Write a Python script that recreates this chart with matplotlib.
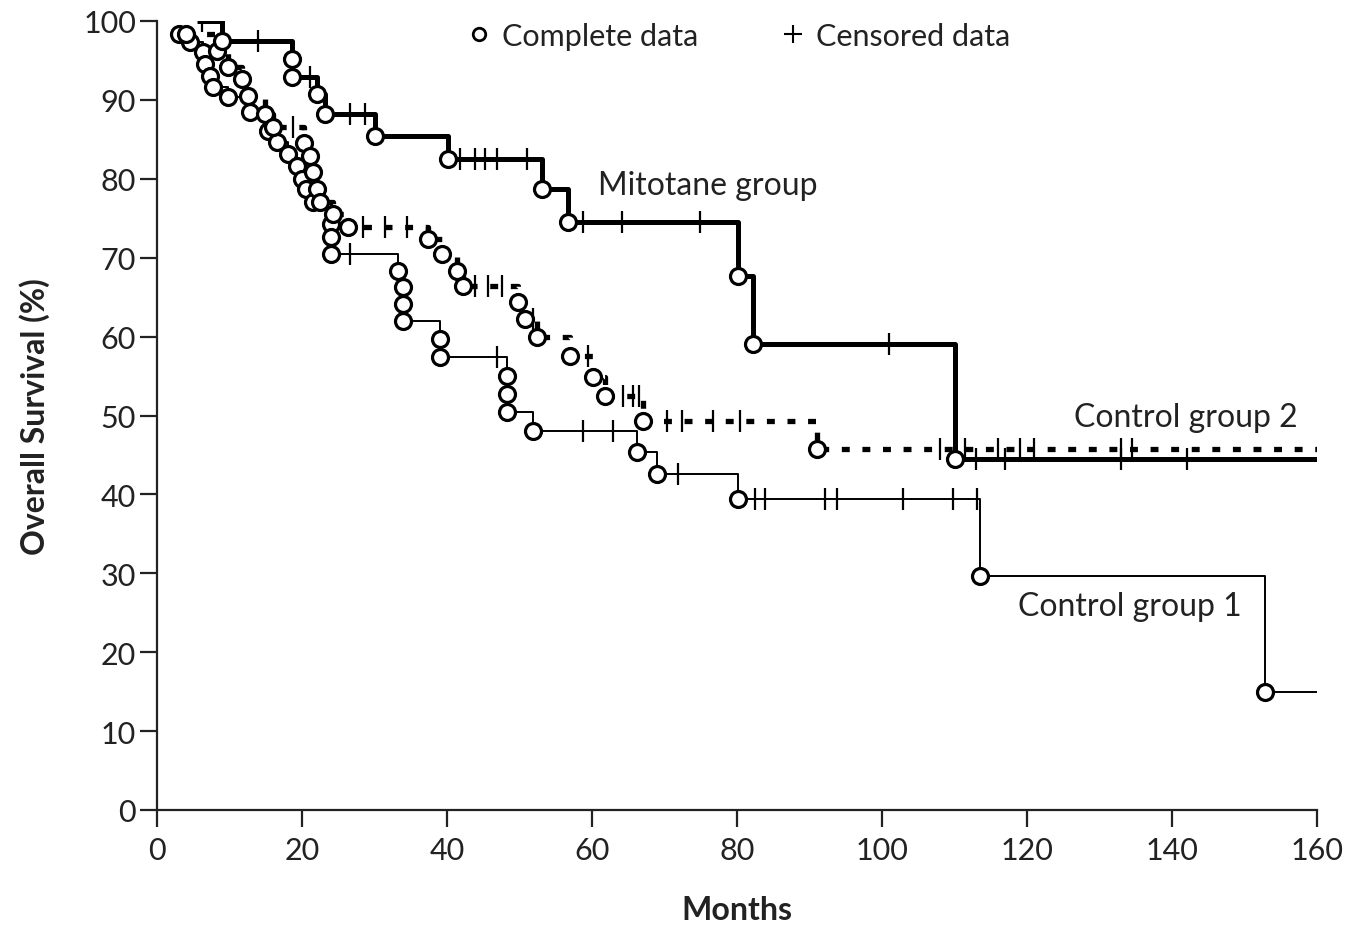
import numpy as np
import matplotlib
matplotlib.use("Agg")
import matplotlib.pyplot as plt
from matplotlib import font_manager
from matplotlib.lines import Line2D

# ---------------- data ----------------
# Mitotane group
mit_start_t = 5.5
mit_start_s = 100.0
mit_event_t = [9.0, 18.6, 18.6, 22.0, 23.2, 30.0, 40.1, 53.1, 56.7, 80.1, 82.2, 110.0]
mit_event_s = [97.5, 95.2, 92.9, 90.7, 88.2, 85.4, 82.5, 78.7, 74.5, 67.7, 59.1, 44.5]
mit_censor_t = [6.2, 13.9, 21.1, 26.6, 28.7, 41.8, 43.9, 45.2, 46.9, 51.0, 58.8, 64.1,
                74.9, 101.0, 113.0, 117.0, 133.0, 142.0]

# Control group 1
c1_event_t = [3.0, 4.6, 6.3, 6.6, 7.3, 7.7, 9.8, 12.8, 15.3, 16.5, 18.1, 19.3, 20.0, 20.5,
              21.5, 24.0, 24.0, 24.0, 33.2, 33.9, 33.9, 33.9, 39.0, 39.0, 48.3, 48.3, 48.3,
              51.9, 66.2, 69.0, 80.1, 113.5, 152.8]
c1_event_s = [98.3, 97.3, 96.1, 94.5, 93.0, 91.6, 90.4, 88.5, 86.1, 84.7, 83.1, 81.6, 80.0, 78.7,
              77.1, 74.3, 72.6, 70.5, 68.3, 66.3, 64.1, 62.0, 59.7, 57.4, 55.0, 52.7, 50.4,
              48.0, 45.4, 42.6, 39.4, 29.7, 15.0]
c1_censor_t = [26.6, 46.9, 58.8, 62.9, 71.9, 82.5, 83.9, 92.1, 93.8, 102.9, 109.8, 113.1]

# Control group 2
c2_event_t = [4.0, 8.3, 9.8, 11.7, 12.5, 14.9, 16.0, 20.3, 21.1, 21.5, 22.0, 22.5, 24.3, 26.3,
              37.4, 39.3, 41.4, 42.2, 49.8, 50.8, 52.4, 57.0, 60.1, 61.8, 67.0, 91.0]
c2_event_s = [98.3, 96.2, 94.2, 92.6, 90.5, 88.2, 86.6, 84.5, 82.9, 80.9, 78.7, 77.1, 75.5, 73.9,
              72.4, 70.5, 68.3, 66.4, 64.4, 62.2, 60.0, 57.5, 54.9, 52.5, 49.3, 45.7]
c2_censor_t = [18.8, 28.4, 31.4, 34.5, 43.9, 45.7, 47.6, 51.8, 59.4, 64.3, 65.7, 66.5, 70.3,
               72.4, 76.7, 80.4, 108.0, 111.5, 116.0, 119.0, 121.0, 133.0, 134.5]

end_t = 160.0

x_ticks = [0, 20, 40, 60, 80, 100, 120, 140, 160]
y_ticks = [0, 10, 20, 30, 40, 50, 60, 70, 80, 90, 100]

# ---------------- fonts ----------------
names = {f.name for f in font_manager.fontManager.ttflist}
fam = 'Liberation Sans Narrow' if 'Liberation Sans Narrow' in names else 'Lato'
plt.rcParams['font.family'] = [fam, 'DejaVu Sans']

fig = plt.figure(figsize=(13.58, 9.29), dpi=100)
ax = fig.add_axes([157/1358, 1-811/929, 1160/1358, 789/929])


def step_arrays(start_t, start_s, ev_t, ev_s, t_end):
    t = [start_t] + list(ev_t) + [t_end]
    s = [start_s] + list(ev_s) + [ev_s[-1]]
    return np.array(t), np.array(s)


def surv_at(tt, ss, tc):
    idx = np.searchsorted(tt, tc, side='right') - 1
    return ss[np.clip(idx, 0, len(ss) - 1)]


groups = [
    (c1_event_t[0], c1_event_s[0], c1_event_t, c1_event_s, c1_censor_t,
     dict(color='black', lw=1.4, linestyle='-')),
    (c2_event_t[0], c2_event_s[0], c2_event_t, c2_event_s, c2_censor_t,
     dict(color='black', lw=3.8, linestyle=(0, (1.5, 2.4)), dash_capstyle='butt')),
    (mit_start_t, mit_start_s, mit_event_t, mit_event_s, mit_censor_t,
     dict(color='black', lw=3.6, linestyle='-', solid_capstyle='butt')),
]

for st, ss0, et, es, ct, style in groups:
    tt, ss = step_arrays(st, ss0, et, es, end_t)
    ax.step(tt, ss, where='post', zorder=2, **style)
    cy = surv_at(tt, ss, np.array(ct))
    ax.plot(ct, cy, linestyle='none', marker='|', markersize=16, mew=1.6,
            color='black', zorder=3)
    ax.plot(et, es, linestyle='none', marker='o', markersize=11.5, mew=2.3,
            mfc='white', mec='black', zorder=4)

ax.set_xlim(0, 160)
ax.set_ylim(0, 100)
ax.set_xticks(x_ticks)
ax.set_yticks(y_ticks)
for side in ['top', 'right']:
    ax.spines[side].set_visible(False)
for side in ['left', 'bottom']:
    ax.spines[side].set_linewidth(1.6)
    ax.spines[side].set_color('#222222')
ax.tick_params(axis='both', direction='out', length=12, width=1.6, colors='#222222',
               labelsize=22)
ax.tick_params(axis='x', pad=7)
ax.tick_params(axis='y', pad=3)

ax.set_xlabel('Months', fontsize=23, fontweight='bold', color='#222222')
ax.xaxis.set_label_coords(0.5, -0.108)
ax.set_ylabel('Overall Survival (%)', fontsize=23, fontweight='bold', color='#222222')
ax.yaxis.set_label_coords(-0.092, 0.5)

ax.text(60.8, 79.2, 'Mitotane group', fontsize=23, va='center', ha='left', color='#222222')
ax.text(126.5, 49.8, 'Control group 2', fontsize=23, va='center', ha='left', color='#222222')
ax.text(118.8, 25.9, 'Control group 1', fontsize=23, va='center', ha='left', color='#222222')

handles = [Line2D([], [], linestyle='none', marker='o', markersize=9, mew=2, mfc='white', mec='black'),
           Line2D([], [], linestyle='none', marker='+', markersize=13, mew=1.5, color='black')]
ax.legend(handles, ['Complete data', 'Censored data'], loc='center', bbox_to_anchor=(0.5, 0.981),
          ncol=2, frameon=False, fontsize=22, handletextpad=0.25, columnspacing=2.6,
          handlelength=1.0, labelcolor='#222222')

fig.savefig('out.png', dpi=100)
